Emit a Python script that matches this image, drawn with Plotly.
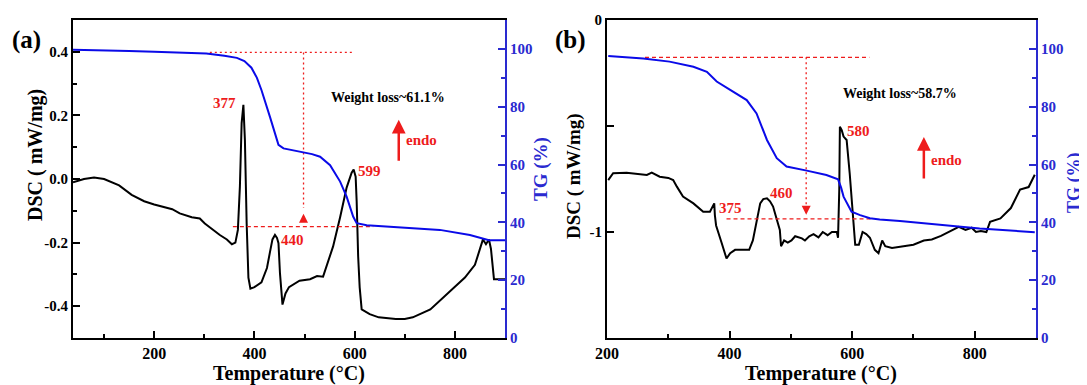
import plotly.graph_objects as go

# The page places the figure 8 px from the window's top-left corner.
OFF = 8
WIN_W, WIN_H = 1087, 385
W, H = WIN_W - OFF, WIN_H - OFF

# ---------------- Panel (a) data ----------------
a_dsc_T = [38, 60, 80, 100, 130, 155, 180, 200, 236, 251, 275, 291, 301, 315, 331, 345, 355, 362, 367, 371, 374.5, 378, 381, 384.5, 388, 392, 400, 414, 418, 425, 431, 436, 441, 445, 448, 451, 456, 462, 469, 480, 490, 511, 525, 537, 557, 571, 584, 594, 598, 602, 604, 607, 610, 614, 630, 648, 682, 700, 716, 751, 785, 820, 840, 850, 856, 862, 868, 872, 878, 890, 900]
a_dsc_V = [-0.01, 0.0, 0.005, 0.0, -0.02, -0.05, -0.07, -0.08, -0.095, -0.108, -0.12, -0.124, -0.14, -0.158, -0.176, -0.19, -0.205, -0.2, -0.16, -0.024, 0.176, 0.233, 0.123, -0.139, -0.31, -0.345, -0.34, -0.325, -0.31, -0.28, -0.23, -0.19, -0.176, -0.185, -0.202, -0.297, -0.395, -0.36, -0.34, -0.33, -0.32, -0.315, -0.305, -0.307, -0.212, -0.12, -0.027, 0.02, 0.03, 0.007, -0.07, -0.244, -0.34, -0.41, -0.425, -0.435, -0.44, -0.44, -0.435, -0.41, -0.36, -0.31, -0.27, -0.22, -0.19, -0.205, -0.19, -0.22, -0.315, -0.315, -0.315]

a_tg_T = [38, 100, 150, 200, 250, 304, 340, 365, 380, 394, 405, 414, 431, 448, 458, 475, 497, 515, 531, 551, 571, 584, 597, 604, 624, 717, 770, 830, 868, 900]
a_tg_V = [99.7, 99.6, 99.3, 99.0, 98.7, 98.4, 97.6, 96.9, 95.8, 93.5, 90.0, 85.8, 76.5, 66.8, 65.6, 65.0, 64.4, 63.6, 62.7, 59.8, 54.1, 48.9, 42.0, 39.7, 39.0, 37.9, 37.4, 35.6, 33.8, 33.8]

a_peaks_T = [341, 475, 630]
a_peaks_V = [0.24, -0.192, 0.025]
a_peaks_txt = ["377", "440", "599"]

a_guide_top_T = [311, 595]
a_guide_top_TG = [98.8, 98.8]
a_guide_bot_T = [357, 637]
a_guide_bot_TG = [38.5, 38.5]
a_guide_vert_T = [498, 498]
a_guide_vert_TG = [98.8, 45.0]
a_small_arrow = (498, 43.0, 39.8)  # T, head TG, tail TG
a_endo = (688, 0.186, 0.053)  # T, tip, tail
a_endo_txt = (698, 0.123)
a_wl = (666, 0.255, "Weight loss~61.1%")

# ---------------- Panel (b) data ----------------
b_dsc_T = [202, 210, 232, 250, 265, 273, 286, 300, 308, 314, 324, 341, 357, 368, 373, 375, 376, 378, 387, 395, 401, 409, 420, 432, 438, 445, 450, 455, 461, 466, 471, 476, 482, 484, 489, 495, 501, 507, 512, 518, 523, 530, 537, 545, 552, 560, 567, 575, 577, 579, 580, 583, 586, 591, 596, 602, 605, 611, 617, 623, 629, 637, 643, 649, 654, 665, 677, 689, 700, 717, 730, 745, 762, 774, 785, 795, 802, 810, 819, 825, 842, 859, 874, 888, 898]
b_dsc_V = [-0.755, -0.723, -0.72, -0.725, -0.731, -0.72, -0.739, -0.745, -0.755, -0.786, -0.833, -0.865, -0.904, -0.904, -0.88, -0.865, -0.92, -0.969, -1.051, -1.125, -1.10, -1.084, -1.084, -1.084, -1.04, -0.943, -0.865, -0.845, -0.841, -0.855, -0.88, -0.93, -0.99, -1.067, -1.04, -1.05, -1.04, -1.02, -1.026, -1.03, -1.04, -1.02, -1.01, -1.025, -1.0, -1.015, -1.0, -1.0, -1.027, -0.8, -0.503, -0.52, -0.55, -0.566, -0.723, -0.928, -1.06, -1.06, -1.0, -1.01, -1.027, -1.084, -1.1, -1.04, -1.067, -1.075, -1.07, -1.067, -1.06, -1.04, -1.035, -1.018, -0.993, -0.976, -0.99, -0.98, -1.0, -0.995, -1.0, -0.952, -0.936, -0.887, -0.80, -0.788, -0.73]

b_tg_T = [202, 259, 302, 341, 363, 379, 401, 428, 444, 461, 477, 493, 526, 558, 577, 582, 586, 599, 613, 629, 645, 678, 808, 898]
b_tg_V = [97.55, 96.7, 95.6, 93.8, 92.1, 88.7, 85.8, 82.3, 77.7, 68.5, 62.2, 59.3, 57.9, 56.4, 54.9, 52.0, 48.9, 43.7, 42.5, 41.4, 41.0, 40.5, 37.9, 36.6]

b_peaks_T = [401, 485.5, 611]
b_peaks_V = [-0.887, -0.816, -0.524]
b_peaks_txt = ["375", "460", "580"]

b_guide_top_T = [262, 628]
b_guide_top_TG = [97.1, 97.1]
b_guide_bot_T = [395, 630]
b_guide_bot_TG = [41.2, 41.2]
b_guide_vert_T = [525, 525]
b_guide_vert_TG = [97.1, 45.5]
b_small_arrow = (525, 42.6, 45.8)
b_endo = (717, -0.552, -0.755)
b_endo_txt = (725, -0.66)
b_wl = (678, -0.349, "Weight loss~58.7%")

# ---------------- styling ----------------
FONT = "Liberation Serif"
RED = "#ee1c1c"
BLUE_LINE = "#0a0ae8"
BLUE_TXT = "#2a2ad0"

def px(x):
    return (x - OFF) / W

def py(y):
    return 1 - (y - OFF) / H

fig = go.Figure()

# Panel a traces
fig.add_trace(go.Scatter(x=a_dsc_T, y=a_dsc_V, mode="lines", line=dict(color="black", width=2), xaxis="x", yaxis="y"))
fig.add_trace(go.Scatter(x=a_guide_top_T, y=a_guide_top_TG, mode="lines", line=dict(color=RED, width=1.3, dash="2px,3px"), xaxis="x", yaxis="y2"))
fig.add_trace(go.Scatter(x=a_guide_vert_T, y=a_guide_vert_TG, mode="lines", line=dict(color=RED, width=1.3, dash="2px,3px"), xaxis="x", yaxis="y2"))
fig.add_trace(go.Scatter(x=a_guide_bot_T, y=a_guide_bot_TG, mode="lines", line=dict(color=RED, width=1.3, dash="4px,3px"), xaxis="x", yaxis="y2"))
fig.add_trace(go.Scatter(x=a_tg_T, y=a_tg_V, mode="lines", line=dict(color=BLUE_LINE, width=2), xaxis="x", yaxis="y2"))

# Panel b traces
fig.add_trace(go.Scatter(x=b_dsc_T, y=b_dsc_V, mode="lines", line=dict(color="black", width=2), xaxis="x2", yaxis="y3"))
fig.add_trace(go.Scatter(x=b_guide_top_T, y=b_guide_top_TG, mode="lines", line=dict(color=RED, width=1.3, dash="4px,3px"), xaxis="x2", yaxis="y4"))
fig.add_trace(go.Scatter(x=b_guide_vert_T, y=b_guide_vert_TG, mode="lines", line=dict(color=RED, width=1.3, dash="2px,3px"), xaxis="x2", yaxis="y4"))
fig.add_trace(go.Scatter(x=b_guide_bot_T, y=b_guide_bot_TG, mode="lines", line=dict(color=RED, width=1.3, dash="4px,3px"), xaxis="x2", yaxis="y4"))
fig.add_trace(go.Scatter(x=b_tg_T, y=b_tg_V, mode="lines", line=dict(color=BLUE_LINE, width=2), xaxis="x2", yaxis="y4"))

ydom = [py(338), py(20)]
common_x = dict(showline=True, linecolor="black", linewidth=2, mirror=True, ticks="inside",
                ticklen=7, tickwidth=2, tickcolor="black", showgrid=False, zeroline=False, automargin=False,
                tickfont=dict(family=FONT, size=16, color="black", weight="bold"),
                minor=dict(ticks="inside", ticklen=4, tickwidth=2, tickcolor="black", dtick=100, tick0=0, showgrid=False))
common_yl = dict(showline=True, linecolor="black", linewidth=2, ticks="inside", ticklen=7, tickwidth=2,
                 tickcolor="black", showgrid=False, zeroline=False, automargin=False,
                 tickfont=dict(family=FONT, size=15, color="black", weight="bold"))
common_yr = dict(showline=True, linecolor=BLUE_TXT, linewidth=2, ticks="inside", ticklen=7, tickwidth=2,
                 tickcolor=BLUE_TXT, showgrid=False, zeroline=False, side="right", range=[0, 110],
                 tickvals=[0, 20, 40, 60, 80, 100], automargin=False,
                 tickfont=dict(family=FONT, size=15, color=BLUE_TXT, weight="bold"),
                 minor=dict(ticks="inside", ticklen=4, tickwidth=2, tickcolor=BLUE_TXT, dtick=10, tick0=0, showgrid=False))

fig.update_layout(
    width=W, height=H, margin=dict(l=0, r=0, t=0, b=0, pad=0, autoexpand=False),
    paper_bgcolor="white", plot_bgcolor="white", showlegend=False,
    xaxis=dict(domain=[px(73), px(505)], range=[38, 900], anchor="y", tickvals=[200, 400, 600, 800], **common_x),
    yaxis=dict(domain=ydom, range=[-0.5, 0.5], anchor="x", tickvals=[-0.4, -0.2, 0, 0.2, 0.4],
               ticktext=["-0.4", "-0.2", "0.0", "0.2", "0.4"],
               minor=dict(ticks="inside", ticklen=4, tickwidth=2, tickcolor="black", dtick=0.1, tick0=0, showgrid=False),
               **common_yl),
    yaxis2=dict(overlaying="y", anchor="x", **common_yr),
    xaxis2=dict(domain=[px(607), px(1036)], range=[200, 900], anchor="y3", tickvals=[200, 400, 600, 800], **common_x),
    yaxis3=dict(domain=ydom, range=[-1.5, 0], anchor="x2", tickvals=[-1, 0], ticktext=["-1", "0"],
                minor=dict(ticks="inside", ticklen=7, tickwidth=2, tickcolor="black", dtick=0.5, tick0=0, showgrid=False),
                **common_yl),
    yaxis4=dict(overlaying="y3", anchor="x2", **common_yr),
)

ann = []

def txt(x, y, s, size, color="black", angle=0, xref="paper", yref="paper", xanchor="center", bold=True):
    ann.append(dict(x=x, y=y, xref=xref, yref=yref, text=("<b>%s</b>" % s) if bold else s, showarrow=False,
                    textangle=angle, xanchor=xanchor, yanchor="middle",
                    font=dict(family=FONT, size=size, color=color)))

# panel labels & axis titles
txt(px(26), py(40), "(a)", 25)
txt(px(570), py(40), "(b)", 25)
txt(px(35), py(155), "DSC ( mW/mg)", 20, angle=-90)
txt(px(574), py(176), "DSC ( mW/mg)", 19, angle=-90)
txt(px(541), py(169), "TG (%)", 19, color=BLUE_TXT, angle=-90)
txt(px(1074), py(183), "TG (%)", 18, color=BLUE_TXT, angle=-90)
txt(px(289), py(373), "Temperature (°C)", 20)
txt(px(821), py(373), "Temperature (°C)", 20)

# peak labels
for T, V, s in zip(a_peaks_T, a_peaks_V, a_peaks_txt):
    txt(T, V, s, 15, color=RED, xref="x", yref="y")
for T, V, s in zip(b_peaks_T, b_peaks_V, b_peaks_txt):
    txt(T, V, s, 15, color=RED, xref="x2", yref="y3")

# weight loss text
txt(a_wl[0], a_wl[1], a_wl[2], 14, xref="x", yref="y")
txt(b_wl[0], b_wl[1], b_wl[2], 14, xref="x2", yref="y3")

# endo arrows & text
for (T, tip, tail), (tT, tV), xr, yr in [(a_endo, a_endo_txt, "x", "y"), (b_endo, b_endo_txt, "x2", "y3")]:
    ann.append(dict(x=T, y=tip, ax=T, ay=tail, xref=xr, yref=yr, axref=xr, ayref=yr, text="",
                    showarrow=True, arrowhead=2, arrowsize=1.1, arrowwidth=2.5, arrowcolor=RED))
    txt(tT, tV, "endo", 15, color=RED, xref=xr, yref=yr, xanchor="left")

# small guide arrows
for (T, head, tail), xr, yr in [(a_small_arrow, "x", "y2"), (b_small_arrow, "x2", "y4")]:
    ann.append(dict(x=T, y=head, ax=T, ay=tail, xref=xr, yref=yr, axref=xr, ayref=yr, text="",
                    showarrow=True, arrowhead=2, arrowsize=1.2, arrowwidth=1.5, arrowcolor=RED))

fig.update_layout(annotations=ann)
fig.write_html("out.html")
